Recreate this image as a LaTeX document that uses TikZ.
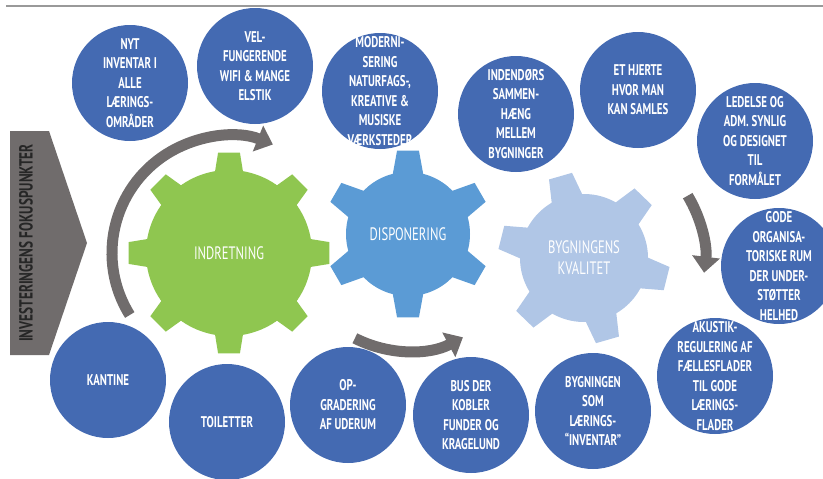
\documentclass[tikz,border=0pt]{standalone}
\usepackage{fontspec}
\setmainfont{PT Sans}[FakeStretch=0.7]
\usetikzlibrary{arrows.meta}
\definecolor{blobblue}{RGB}{68,106,178}
\definecolor{cogolive}{RGB}{143,198,80}
\definecolor{cogmid}{RGB}{91,155,213}
\definecolor{coglight}{RGB}{176,198,230}
\definecolor{loopgray}{RGB}{112,108,108}

\begin{document}
\begin{tikzpicture}[x=1pt,y=1pt,
  blob/.style={circle,fill=blobblue,minimum size=116pt,inner sep=0pt},
  blobtext/.style={text=white,font=\fontsize{15.5}{19.5}\selectfont\bfseries,align=center},
  cogtext/.style={text=white,font=\fontsize{18}{21}\selectfont,align=center},
  looparrow/.style={draw=loopgray,line width=11pt,-{Triangle[length=16pt,width=27pt]}}]
\useasboundingbox (0,0) rectangle (823,-479);
\draw[gray!80,line width=1.2pt] (6,-6) -- (823,-6);

% banner
\fill[loopgray] (10,-131) -- (49,-131) -- (87,-243) -- (49,-355) -- (10,-355) -- cycle;
\node[rotate=90,text=black!85,font=\fontsize{19}{22}\selectfont\bfseries] (focus) at (26,-243) {INVESTERINGENS FOKUSPUNKTER};

\coordinate (ind) at (229,-253);
\coordinate (disp) at (408,-234);
\coordinate (kval) at (584,-258);

% arrows round the cogs
\draw[looparrow] ([shift={(212:117)}]ind) arc[start angle=212,end angle=68,radius=117];
\draw[looparrow] ([shift={(243:117)}]disp) arc[start angle=243,end angle=298,radius=117];
\draw[looparrow] ([shift={(31:121)}]kval) arc[start angle=31,end angle=-7,radius=121];

% cogs
\begin{scope}[shift={(ind)}]
\fill[cogolive] (0,0) circle (83);
\foreach \a in {0,45,...,315}
  \fill[cogolive] (\a-10.4:80) -- (\a-6.2:101) -- (\a+6.2:101) -- (\a+10.4:80) -- cycle;
\end{scope}
\begin{scope}[shift={(disp)}]
\fill[cogmid] (0,0) circle (62);
\foreach \a in {30,90,...,330}
  \fill[cogmid] (\a-16:58) -- (\a-7.5:84) -- (\a+7.5:84) -- (\a+16:58) -- cycle;
\end{scope}
\begin{scope}[shift={(kval)}]
\fill[coglight] (0,0) circle (64);
\foreach \a in {46,106,...,346}
  \fill[coglight] (\a-16:60) -- (\a-8:86) -- (\a+8:86) -- (\a+16:60) -- cycle;
\end{scope}
\node[cogtext] (indlabel) at (ind) {INDRETNING};
\node[cogtext] (displabel) at (disp) {DISPONERING};
\node[cogtext] (kvallabel) at (kval) {BYGNINGENS\\KVALITET};

% focus points
\node[blob,label={[blobtext]center:{NYT\\INVENTAR I\\ALLE\\LÆRINGS-\\OMRÅDER}}] (nytinv) at (130,-83) {};
\node[blob,label={[blobtext]center:{VEL-\\FUNGERENDE\\WIFI \& MANGE\\ELSTIK}}] (wifi) at (255,-66) {};
\node[blob,label={[blobtext]center:{MODERNI-\\SERING\\NATURFAGS-,\\KREATIVE \&\\MUSISKE\\VÆRKSTEDER}}] (moderni) at (380,-91) {};
\node[blob,label={[blobtext]center:{INDENDØRS\\SAMMEN-\\HÆNG\\MELLEM\\BYGNINGER}}] (inddor) at (516,-114) {};
\node[blob,label={[blobtext]center:{ET HJERTE\\HVOR MAN\\KAN SAMLES}}] (hjerte) at (638,-90) {};
\node[blob,label={[blobtext]center:{LEDELSE OG\\ADM. SYNLIG\\OG DESIGNET\\TIL\\FORMÅLET}}] (ledelse) at (755,-141) {};
\node[blob,label={[blobtext]center:{GODE\\ORGANISA-\\TORISKE RUM\\DER UNDER-\\STØTTER\\HELHED}}] (godeorg) at (779,-266) {};
\node[blob,label={[blobtext]center:{AKUSTIK-\\REGULERING AF\\FÆLLESFLADER\\TIL GODE\\LÆRINGS-\\FLADER}}] (akustik) at (715,-376) {};
\node[blob,label={[blobtext]center:{BYGNINGEN\\SOM\\LÆRINGS-\\“INVENTAR”}}] (bygsom) at (593,-411) {};
\node[blob,label={[blobtext]center:{BUS DER\\KOBLER\\FUNDER OG\\KRAGELUND}}] (bus) at (471,-415) {};
\node[blob,label={[blobtext]center:{OP-\\GRADERING\\AF UDERUM}}] (uderum) at (348,-405) {};
\node[blob,label={[blobtext]center:{TOILETTER}}] (toilet) at (227,-422) {};
\node[blob,label={[blobtext]center:{KANTINE}}] (kantine) at (108,-380) {};

\end{tikzpicture}
\end{document}
